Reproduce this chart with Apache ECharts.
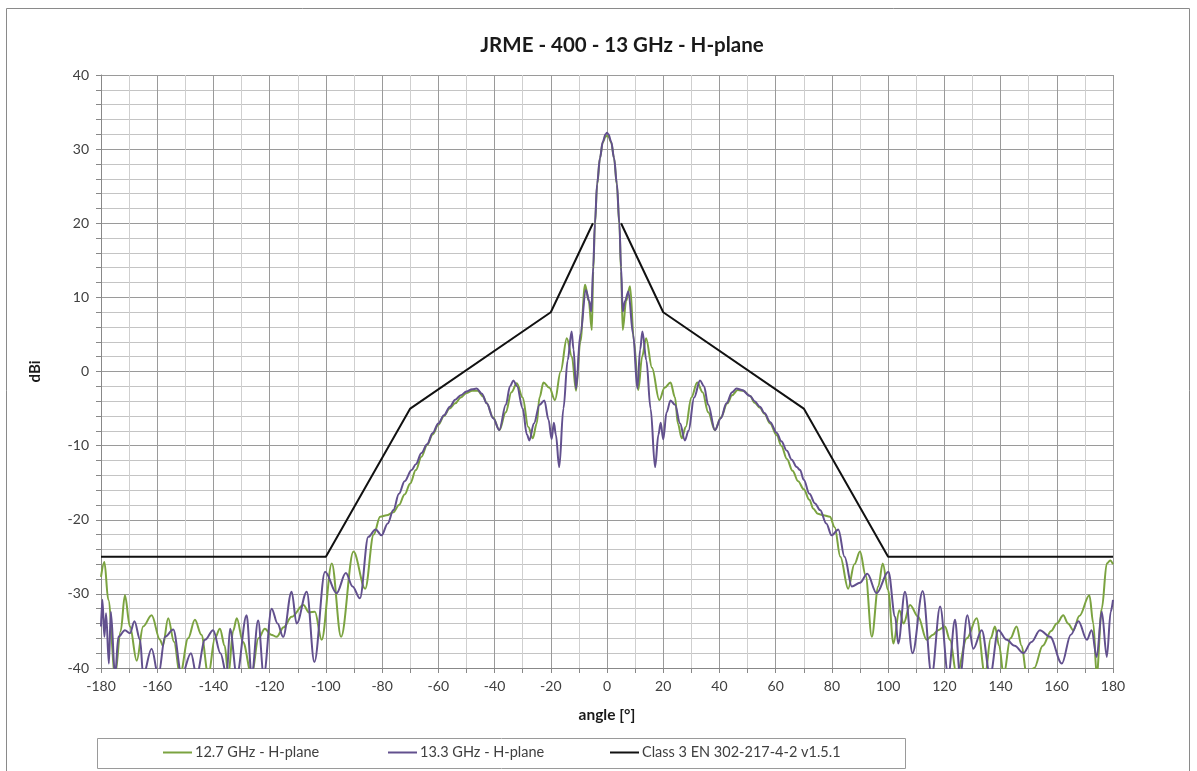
<!DOCTYPE html>
<html>
<head>
<meta charset="utf-8">
<script src="https://cdn.jsdelivr.net/npm/echarts@6/dist/echarts.min.js"></script>
<style>
html,body{margin:0;padding:0;background:#fff;}
#chart{width:1197px;height:771px;}
</style>
</head>
<body>
<div id="chart"></div>
<script>
// ---- data ----
const title = 'JRME - 400 - 13 GHz - H-plane';
const seriesNames = ['12.7 GHz - H-plane', '13.3 GHz - H-plane', 'Class 3 EN 302-217-4-2 v1.5.1'];
const xTicks = [-180,-160,-140,-120,-100,-80,-60,-40,-20,0,20,40,60,80,100,120,140,160,180];
const yTicks = [-40,-30,-20,-10,0,10,20,30,40];

// 12.7 GHz - H-plane
const greenAngle = [
 -180,-178.8,-177.4,-175,-173,-171.5,-169.7,-167.3,-165,-162,-159,-158,-156.1,-154,-151.9,-149,-146.6,-144.3,-141.8,-139.5,
 -137.7,-136,-134.7,-133,-131.7,-129.5,-126.4,-124,-121.7,-119.5,-117.5,-115,-112.2,-108,-106,-103.9,-101.5,-97.9,-94.6,-90.2,
 -86,-83,-80.7,-78.4,-76,-74,-72,-70,-68,-66,-64,-62,-60,-58,-56,-54,-52,-50,-48,-46,
 -44,-42.8,-40.5,-38.3,-36,-34,-32.1,-30,-28,-26.4,-25,-24,-22.6,-20.5,-18.5,-16.5,-14.3,-12.5,-11,-9.5,
 -7.8,-6.5,-5.4,-4.9,-4.3,-3.5,-2.5,-1.5,-0.5,0,0.5,1.5,2.5,3.5,4.4,5,5.6,6.8,8.2,9.6,
 11.1,12.5,13.9,16,18.6,20.5,22.6,24.2,25.2,26.6,28,30,32.1,34,36,38.4,40.5,42.8,44.5,46.5,
 48.5,50.9,52.5,54.4,56,58,60.4,62,64,66,68,70,72,73.4,75,77,79.3,81,83,85.8,
 88,90,92,94.2,96.5,98.1,100,101.9,104,105.5,107.8,110.7,113.7,116,117.8,120.2,122,124.4,128,131.5,
 134.5,136.5,138,139.5,141.1,143.5,145.7,147.5,149.3,152,155,158,160,162.3,164,165.9,168,171.6,173,174.2,
 176,177.8,179,180];
const greenDbi = [
 -27.7,-25.7,-30.8,-41,-35,-30.2,-34.4,-39,-34.4,-32.9,-36.2,-37,-33.3,-36.5,-41,-36,-33.5,-35.5,-41,-36,
 -34.7,-37,-41,-35,-33.3,-36.5,-41,-36,-34.7,-35.5,-35.8,-34.5,-33.1,-31.5,-32.5,-32.4,-36.2,-25.9,-35.8,-24.3,
 -29.3,-22,-19.6,-19.4,-19.0,-18.0,-16.6,-15.1,-13.3,-11.5,-9.9,-8.5,-7.2,-6.0,-5.0,-4.3,-3.5,-2.9,-2.6,-2.6,
 -3.4,-4.3,-6.2,-7.9,-5.5,-2.8,-1.6,-3.5,-7.5,-9.0,-7,-3.5,-1.5,-2.2,-3.85,0,4.5,2,-2.6,4,
 11.7,9.5,5.6,13.5,19.8,25.2,28.8,30.9,31.7,31.8,31.7,30.9,28.8,25.2,19.8,13.5,5.6,9.5,11.5,4,
 -2.5,2,4.5,0.5,-3.85,-2.2,-1.5,-3.5,-7,-9.0,-7.5,-3.5,-1.5,-2.8,-5.5,-7.9,-6.2,-4.3,-3.2,-2.5,
 -2.6,-3.3,-4.2,-4.9,-5.7,-7.0,-8.6,-10,-11.8,-13.4,-14.8,-15.9,-17.3,-18.5,-19.2,-19.4,-19.6,-21,-25,-29.3,
 -26,-24.3,-27.5,-35.8,-29,-25.9,-29.5,-36.7,-32.2,-34,-31.5,-33.1,-36.2,-35.5,-34.9,-34.4,-36.2,-41,-36,-33.3,
 -41,-36,-34.4,-37,-41,-36,-34.4,-37,-41,-40,-37,-35,-34,-32.9,-34,-34.9,-33,-30.2,-34,-41,
 -32,-25.9,-25.5,-26];

// 13.3 GHz - H-plane
const purpleAngle = [
 -180,-179.5,-178.8,-178.2,-177.2,-176.5,-175,-173.8,-171.5,-169.7,-168.1,-166.1,-165,-162,-159.6,-157.2,-154.3,-151.3,-148,-146,
 -143,-140.1,-137.5,-135.3,-134.1,-131.7,-128.2,-126.4,-124.1,-122.1,-119.3,-117.2,-115.2,-112.2,-110.4,-106.8,-104.1,-100.3,-96.2,-92.9,
 -90.5,-87.9,-84.9,-82.3,-80.2,-78,-76,-74,-72,-69.5,-68,-66,-64,-62,-60,-58,-55.9,-54,-52,-50,
 -48,-46.4,-44.5,-42.8,-40.5,-38.3,-36,-34.5,-33.3,-32,-30,-28.5,-27.6,-26,-24,-22.3,-20.8,-19.7,-18.9,-18.2,
 -17,-15.5,-14,-12.6,-11.9,-11,-9.5,-7.5,-6.3,-5.6,-4.9,-4.3,-3.5,-2.5,-1.5,-0.5,0,0.5,1.5,2.5,
 3.5,4.4,5,5.6,6.4,7.6,9.3,10.8,11.8,12.6,14,15.5,17.1,18.3,19.1,20,21.2,22.6,24.2,26,
 27.7,29,31,33.1,34.5,36,38.4,40.5,42.5,44.5,46.1,48,50.9,52.5,54.4,56,58,60.4,62,64,
 65.7,67.5,68.7,70,72,74,75.8,78,79.9,82.3,84.5,87.1,90,92.6,95.9,100.1,102.5,103.6,106,108.7,
 112.3,115.5,118.5,121.4,123.8,125.6,128.2,130.3,133.3,136.3,139.2,142.2,145,148.1,151,154,157.6,161.8,165,167.7,
 170.7,172.4,174.2,176,177.8,179.2,180];
const purpleDbi = [
 -34.4,-30.8,-35.8,-32.6,-39.4,-32.4,-41,-35.8,-34.9,-35.3,-33.7,-36.2,-41,-37.4,-41,-35.8,-34.8,-41,-38,-41,
 -36.2,-34.9,-38,-41,-34.7,-41,-32.9,-41,-33.6,-41,-32.0,-34,-35.8,-29.7,-34.0,-29.7,-39.2,-27.0,-29.9,-27.2,
 -29,-30.6,-22.3,-21.3,-22.1,-20.5,-18.7,-16.5,-14.8,-13.3,-12.5,-11,-9.8,-8.3,-7.0,-5.9,-4.75,-3.8,-3.2,-2.7,
 -2.4,-2.3,-3.0,-4.3,-6.3,-7.9,-4.5,-2.0,-1.2,-2,-5,-8.5,-9.3,-7,-4.5,-3.9,-6.5,-9.1,-6.9,-8.5,
 -12.9,-5,1.5,5.4,3,-2.3,5,11.0,9.5,8.1,14.1,20,25.4,28.8,31,32.0,32.2,32.0,31,28.8,
 25.4,20,14.1,8.1,9.5,10.8,5,-2.3,3,5.4,1.5,-5,-12.9,-8.5,-6.9,-9.15,-5.5,-3.9,-4.5,-7,
 -9.3,-8,-3.5,-1.2,-2.0,-4.5,-7.9,-6.3,-4.3,-2.8,-2.3,-2.5,-3.3,-4.0,-4.75,-5.6,-6.8,-8.3,-9.4,-10.7,
 -11.9,-12.9,-13.3,-14.6,-16.5,-17.8,-18.7,-20.5,-22.1,-21.3,-25,-29.0,-28.5,-27.3,-29.9,-27.0,-33.1,-36.7,-29.7,-38.0,
 -29.6,-41,-31.7,-41,-33.5,-41,-32.9,-37.4,-34.9,-41,-34.9,-36.2,-37,-38,-36.5,-34.9,-35.8,-39.4,-35.5,-33.7,
 -36.2,-34.9,-38.5,-32.4,-38.5,-32.4,-30.8];

// Class 3 EN 302-217-4-2 v1.5.1 mask (gap around boresight)
const maskAngle = [-180,-100,-70,-20,-5,null,5,20,70,100,180];
const maskDbi   = [-25,-25,-5,8,20,null,20,8,-5,-25,-25];

function pairs(xs, ys){ return xs.map((x,i)=> x===null ? [null,null] : [x, ys[i]]); }

const FONT = 'Lato, "Liberation Sans", sans-serif';
const legendLefts = [163, 388, 610];
function legendFor(name, i){
  return {
    left:legendLefts[i], top:745, padding:0,
    itemWidth:29, itemHeight:2, icon:'rect', itemGap:0,
    textStyle:{fontFamily:FONT, fontSize:14.5, color:'#404040', padding:[0,0,0,-2]},
    data:[name], selectedMode:false
  };
}
const chart = echarts.init(document.getElementById('chart'), null, {renderer:'canvas'});
chart.setOption({
  animation:false,
  backgroundColor:'#ffffff',
  textStyle:{fontFamily:FONT},
  title:{
    text:title, left:617, top:30, textAlign:'center',
    textStyle:{fontFamily:FONT, fontSize:20.5, fontWeight:'bold', color:'#1a1a1a'}
  },
  graphic:[
    {type:'rect', shape:{x:6.5, y:8.5, width:1183, height:780},
     style:{fill:'none', stroke:'#8a8a8a', lineWidth:1}, silent:true, z:-1},
    {type:'rect', shape:{x:97.5, y:738.5, width:808, height:30},
     style:{fill:'none', stroke:'#9a9a9a', lineWidth:1}, silent:true, z:-1}
  ],
  legend:seriesNames.map(legendFor),
  grid:{left:101, right:84, top:75, bottom:103, containLabel:false},
  xAxis:{
    type:'value', min:-180, max:180, interval:20,
    name:'angle [°]', nameLocation:'middle', nameGap:39,
    nameTextStyle:{fontFamily:FONT, fontSize:15.5, fontWeight:'bold', color:'#1a1a1a'},
    axisLine:{show:true, onZero:false, lineStyle:{color:'#888', width:1}},
    axisTick:{show:true, length:5, lineStyle:{color:'#888'}},
    minorTick:{show:true, splitNumber:2, length:5, lineStyle:{color:'#888'}},
    axisLabel:{fontFamily:FONT, fontSize:14, color:'#404040', margin:11,
      customValues:xTicks, formatter:v=>String(v)},
    splitLine:{show:true, lineStyle:{color:'#9a9a9a', width:1}},
    minorSplitLine:{show:true, lineStyle:{color:'#cfcfcf', width:1}}
  },
  yAxis:{
    type:'value', min:-40, max:40, interval:10,
    name:'dBi', nameLocation:'middle', nameGap:58, nameRotate:90,
    nameTextStyle:{fontFamily:FONT, fontSize:15, fontWeight:'bold', color:'#1a1a1a'},
    axisLine:{show:true, onZero:false, lineStyle:{color:'#888', width:1}},
    axisTick:{show:true, length:5, lineStyle:{color:'#888'}},
    minorTick:{show:true, splitNumber:5, length:5, lineStyle:{color:'#888'}},
    axisLabel:{fontFamily:FONT, fontSize:14, color:'#404040', margin:12,
      customValues:yTicks, formatter:v=>String(v)},
    splitLine:{show:true, lineStyle:{color:'#9a9a9a', width:1}},
    minorSplitLine:{show:true, lineStyle:{color:'#c4c4c4', width:1}}
  },
  series:[
    {name:seriesNames[0], type:'line', data:pairs(greenAngle, greenDbi), symbol:'none',
     smooth:0.35, smoothMonotone:'x', clip:true,
     lineStyle:{color:'#7BA340', width:2}, itemStyle:{color:'#7BA340'}, z:2},
    {name:seriesNames[1], type:'line', data:pairs(purpleAngle, purpleDbi), symbol:'none',
     smooth:0.35, smoothMonotone:'x', clip:true,
     lineStyle:{color:'#62508E', width:2}, itemStyle:{color:'#62508E'}, z:3},
    {name:seriesNames[2], type:'line', data:pairs(maskAngle, maskDbi), symbol:'none',
     connectNulls:false, clip:true,
     lineStyle:{color:'#111111', width:2}, itemStyle:{color:'#111111'}, z:4}
  ]
});
</script>
</body>
</html>
